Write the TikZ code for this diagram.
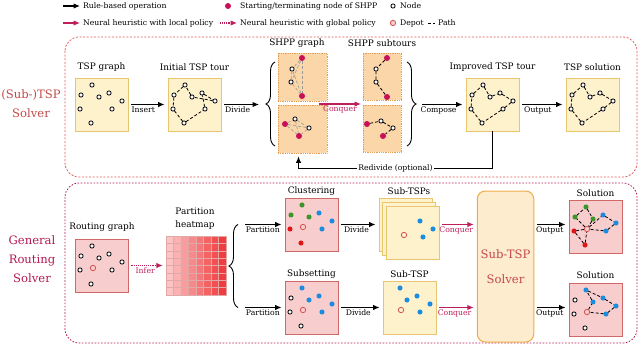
\documentclass[tikz,border=0pt]{standalone}
\usepackage{fontspec}
\setmainfont{DejaVu Serif}
\usetikzlibrary{arrows.meta, decorations.pathreplacing}

\definecolor{topc}{RGB}{196,72,72}
\definecolor{frmc}{RGB}{226,92,92}
\definecolor{botc}{RGB}{180,24,84}
\definecolor{conqc}{RGB}{190,30,90}
\definecolor{shpc}{RGB}{200,16,90}
\definecolor{yfill}{RGB}{254,242,204}
\definecolor{yline}{RGB}{232,198,112}
\definecolor{ofill}{RGB}{250,214,168}
\definecolor{oline}{RGB}{226,158,88}
\definecolor{pfill}{RGB}{248,205,205}
\definecolor{pline}{RGB}{208,104,104}
\definecolor{depc}{RGB}{212,84,84}
\definecolor{bluc}{RGB}{28,140,222}
\definecolor{grnc}{RGB}{58,150,40}
\definecolor{redc}{RGB}{222,22,22}
\definecolor{hot}{RGB}{240,60,60}
\definecolor{gridc}{RGB}{226,168,168}
\definecolor{svfill}{RGB}{254,236,206}
\definecolor{svline}{RGB}{238,172,72}

\tikzset{
    bx/.style={rectangle, inner sep=0pt, minimum width=53pt, minimum height=53pt, line width=0.8pt},
    ybox/.style={bx, fill=yfill, draw=yline},
    obox/.style={bx, fill=ofill, draw=oline, densely dotted, minimum width=49pt, minimum height=48pt},
    pbox/.style={bx, fill=pfill, draw=pline},
    vtx/.style={circle, draw=black, fill=white, line width=0.8pt, inner sep=0pt, minimum size=4.2pt},
    shp/.style={circle, fill=shpc, inner sep=0pt, minimum size=6pt},
    dep/.style={circle, draw=depc, line width=0.8pt, inner sep=0pt, minimum size=5.4pt},
    tour/.style={densely dashed, line width=0.8pt},
    gtour/.style={densely dashed, black!40, line width=0.6pt},
    rul/.style={->, line width=1.1pt, shorten >=3pt, shorten <=3pt},
    loc/.style={rul, conqc},
    glob/.style={rul, conqc, densely dotted},
    lbl/.style={font=\fontsize{8.9}{12.5}\selectfont, inner sep=1pt},
    albl/.style={font=\fontsize{7.7}{9}\selectfont, inner sep=1.5pt},
    lgd/.style={font=\fontsize{7.7}{9}\selectfont, anchor=west, inner sep=0pt},
    big/.style={font=\fontsize{11.6}{19}\selectfont, align=center},
}

\begin{document}
\begin{tikzpicture}[x=1pt, y=-1pt, >={Latex[length=6.5pt, width=5.5pt]}]
    \useasboundingbox (0,0) rectangle (640,345);

    % 1. Chú thích
    \node[lgd] (lg1) at (83,6) {Rule-based operation};
    \draw[rul, shorten <=0pt] ([xshift=-20pt]lg1.west) -- (lg1.west);
    \node[shp] (lgs) at (228,6) {};
    \node[lgd] (lg2) at (240,6) {Starting/terminating node of SHPP};
    \node[vtx] (lgn) at (393,6) {};
    \node[lgd] (lg3) at (400,6) {Node};
    \node[lgd] (lg4) at (83,23) {Neural heuristic with local policy};
    \draw[loc, shorten <=0pt] ([xshift=-20pt]lg4.west) -- (lg4.west);
    \node[lgd] (lg5) at (240,23) {Neural heuristic with global policy};
    \draw[glob, shorten <=0pt] ([xshift=-20pt]lg5.west) -- (lg5.west);
    \node[dep, fill=pfill] (lgdep) at (393,23) {};
    \node[lgd] (lg6) at (400,23) {Depot};
    \node[lgd] (lg7) at (438,23) {Path};
    \draw[tour] ([xshift=-10pt]lg7.west) -- ([xshift=-3pt]lg7.west);

    % 2. Hai khung nét đứt
    \draw[frmc, dash pattern=on 2pt off 1.6pt, line width=0.8pt, rounded corners=14pt] (65,37) rectangle (637,177);
    \node[big, text=topc] (tlab) at (31,104) {(Sub-)TSP\\Solver};
    \draw[botc, dash pattern=on 1.6pt off 1.6pt, line width=0.8pt, rounded corners=14pt] (65,183) rectangle (637,343);
    \node[big, text=botc] (blab) at (32,259) {General\\Routing\\Solver};

    % 3. Hàng trên
    % TSP graph
    \node[ybox] (tsp) at (101.5,104.5) {};
    \node[lbl] (t1) at (101.5,67) {TSP graph};
    \foreach \n/\x/\y in {1/17/7,2/6/17,3/24/19,4/34/15,5/47/23,6/5/31,7/37/31,8/16/45}
        \node[vtx] (a\n) at (75+\x,78+\y) {};

    % Initial TSP tour
    \node[ybox] (init) at (194.5,104.5) {};
    \node[lbl] (t2) at (194.5,67) {Initial TSP tour};
    \foreach \n/\x/\y in {1/17/7,2/6/17,3/24/19,4/34/15,5/47/23,6/5/31,7/37/31,8/16/45}
        \node[vtx] (b\n) at (168+\x,78+\y) {};
    \draw[tour] (b1) -- (b2) -- (b6) -- (b8) -- (b7) -- (b4) -- (b5) -- (b3) -- (b1);
    \draw[rul] (tsp) -- (init) node[albl, below, pos=0.38] {Insert};

    % SHPP graph
    \node[obox] (sg1) at (302.5,77) {};
    \node[obox] (sg2) at (302.5,129) {};
    \node[lbl] (t3) at (297,43) {SHPP graph};
    \node[shp] (c1) at (302,58) {};
    \node[vtx] (c2) at (292,69) {};
    \node[vtx] (c3) at (291,82) {};
    \node[shp] (c4) at (302,96) {};
    \node[shp] (d1) at (285,124) {};
    \node[vtx] (d2) at (295,119) {};
    \node[vtx] (d3) at (309,128) {};
    \node[shp] (d4) at (299,136) {};
    \foreach \u/\v in {1/2,1/3,1/4,2/3,2/4,3/4} {
        \draw[gtour] (c\u) -- (c\v);
        \draw[gtour] (d\u) -- (d\v);
    }
    \draw[decorate, decoration={brace, amplitude=9pt}, line width=0.9pt] (275,146) -- (275,62);
    \coordinate (brA) at (262,104.5);
    \draw[rul] (init) -- (brA) node[albl, below, pos=0.4] {Divide};

    % SHPP subtours
    \node[obox, minimum width=38pt, minimum height=47pt] (su1) at (382,76.5) {};
    \node[obox, minimum width=38pt, minimum height=47pt] (su2) at (382,128.5) {};
    \node[lbl] (t4) at (382,43) {SHPP subtours};
    \node[shp] (e1) at (387,58) {};
    \node[vtx] (e2) at (376,69) {};
    \node[vtx] (e3) at (376,82) {};
    \node[shp] (e4) at (387,97) {};
    \node[shp] (f1) at (367,124) {};
    \node[vtx] (f2) at (381,121) {};
    \node[vtx] (f3) at (393,128) {};
    \node[shp] (f4) at (383,136) {};
    \draw[tour] (e1) -- (e2) -- (e3) -- (e4);
    \draw[tour] (f1) -- (f2) -- (f3) -- (f4);
    \coordinate (cqA) at (316,104);
    \coordinate (cqB) at (364,104);
    \draw[loc] (cqA) -- (cqB) node[albl, below, pos=0.5, text=conqc] {Conquer};
    \draw[decorate, decoration={brace, amplitude=9pt}, line width=0.9pt] (407,62) -- (407,146);

    % Improved TSP tour
    \node[ybox] (imp) at (492.5,104.5) {};
    \node[lbl] (t5) at (492.5,67) {Improved TSP tour};
    \foreach \n/\x/\y in {1/17/7,2/6/17,3/24/19,4/34/15,5/47/23,6/5/31,7/37/31,8/16/45}
        \node[vtx] (g\n) at (466+\x,78+\y) {};
    \draw[tour] (g2) -- (g1) -- (g3) -- (g4) -- (g5) -- (g7) -- (g8) -- (g6) -- (g2);
    \coordinate (brB) at (419,104.5);
    \draw[rul] (brB) -- (imp) node[albl, below, pos=0.42] {Compose};

    % TSP solution
    \node[ybox] (sol) at (592.5,104.5) {};
    \node[lbl] (t6) at (592.5,67) {TSP solution};
    \foreach \n/\x/\y in {1/17/7,2/6/17,3/24/19,4/34/15,5/47/23,6/5/31,7/37/31,8/16/45}
        \node[vtx] (h\n) at (566+\x,78+\y) {};
    \draw[tour] (h2) -- (h1) -- (h3) -- (h4) -- (h5) -- (h7) -- (h8) -- (h6) -- (h2);
    \draw[rul] (imp) -- (sol) node[albl, below, pos=0.4] {Output};

    % Redivide
    \draw[rul, line width=0.9pt, shorten <=0pt] (imp.south) -- ++(0,37) -| ([xshift=-4pt]sg2.south)
        node[albl, pos=0.25, fill=white] {Redivide (optional)};

    % 4. Hàng dưới
    % Routing graph
    \node[pbox] (rg) at (101.5,265.5) {};
    \node[lbl] (u1) at (102,227) {Routing graph};
    \foreach \n/\x/\y in {1/17/7,2/6/17,3/24/19,4/34/15,5/47/23,6/5/31,7/37/31,8/16/45}
        \node[vtx] (r\n) at (75+\x,239+\y) {};
    \node[dep] (r0) at (93,268) {};

    % Partition heatmap
    \node[inner sep=0pt, minimum width=60pt, minimum height=59pt] (hm) at (196,265.5) {};
    \foreach \i [evaluate=\i as \c using int(30+10*\i)] in {0,...,7}
        \foreach \j in {0,...,7}
            \filldraw[fill=hot!\c!white, draw=gridc, line width=0.5pt] (166+7.5*\i,236+7.375*\j) rectangle ++(7.5,7.375);
    \node[lbl, align=center] (u2) at (195,218.5) {Partition\\heatmap};
    \draw[glob] (rg.east) -- (rg.east -| hm.west) node[albl, below, pos=0.45, text=conqc] {Infer};
    \draw[decorate, decoration={brace, amplitude=9pt}, line width=0.9pt] (238,307.5) -- (238,224.5);

    % Clustering
    \node[pbox] (cl) at (311.5,224.5) {};
    \node[lbl] (u3) at (311.5,191) {Clustering};
    \foreach \n/\x/\y/\c in {1/17/7/grnc,2/6/17/grnc,3/24/19/grnc,4/34/15/bluc,5/47/23/bluc,6/5/31/redc,7/37/31/bluc,8/16/45/redc}
        \node[vtx, fill=\c, draw=\c] (n\n) at (285+\x,198+\y) {};
    \node[dep] (n0) at (303,227) {};
    \coordinate (pa1) at (245,224.5);
    \draw[rul, shorten <=0pt] (pa1) -- (cl) node[albl, below, pos=0.45] {Partition};

    % Subsetting
    \node[pbox] (ss) at (311.5,307.5) {};
    \node[lbl] (u4) at (311.5,274) {Subsetting};
    \foreach \n/\x/\y/\c/\e in {1/17/7/bluc/bluc,2/6/17/white/black,3/24/19/bluc/bluc,4/34/15/bluc/bluc,5/47/23/bluc/bluc,6/5/31/white/black,7/37/31/bluc/bluc,8/16/45/white/black}
        \node[vtx, fill=\c, draw=\e] (q\n) at (285+\x,281+\y) {};
    \node[dep] (q0) at (303,310) {};
    \coordinate (pa2) at (245,307.5);
    \draw[rul, shorten <=0pt] (pa2) -- (ss) node[albl, below, pos=0.45] {Partition};

    % Sub-TSPs
    \node[ybox] (stC) at (405.5,224.5) {};
    \node[ybox] (stB) at (409,228.5) {};
    \node[ybox] (stA) at (412.5,232.5) {};
    \node[lbl] (u5) at (409,191) {Sub-TSPs};
    \foreach \n/\x/\y in {4/34/15,5/47/23,7/37/31}
        \node[vtx, fill=bluc, draw=bluc] (p\n) at (386+\x,206+\y) {};
    \node[dep] (p0) at (404,235) {};
    \draw[rul] (cl) -- (stC) node[albl, below, pos=0.45] {Divide};

    % Sub-TSP
    \node[ybox] (st) at (409.5,307.5) {};
    \node[lbl] (u6) at (409.5,274) {Sub-TSP};
    \foreach \n/\x/\y in {1/17/7,3/24/19,4/34/15,5/47/23,7/37/31}
        \node[vtx, fill=bluc, draw=bluc] (v\n) at (383+\x,281+\y) {};
    \node[dep] (v0) at (401,310) {};
    \draw[rul] (ss) -- (st) node[albl, below, pos=0.45] {Divide};

    % Sub-TSP Solver
    \node[rectangle, rounded corners=8pt, fill=svfill, draw=svline, line width=1pt, minimum width=55pt,
        minimum height=151pt, big, text=topc] (sv) at (505.5,266.5) {Sub-TSP\\[6pt]Solver};
    \draw[loc] (stA.east |- cl.east) -- (sv.west |- cl.east) node[albl, below, pos=0.45, text=conqc] {Conquer};
    \draw[loc] (st.east) -- (sv.west |- st.east) node[albl, below, pos=0.45, text=conqc] {Conquer};

    % Solution
    \node[pbox] (so1) at (595.5,226.5) {};
    \node[lbl] (u7) at (595.5,193) {Solution};
    \foreach \n/\x/\y/\c in {1/17/7/grnc,2/6/17/grnc,3/24/19/grnc,4/34/15/bluc,5/47/23/bluc,6/5/31/redc,7/37/31/bluc,8/16/45/redc}
        \node[vtx, fill=\c, draw=\c] (k\n) at (569+\x,200+\y) {};
    \node[dep] (k0) at (587,229) {};
    \draw[tour] (k0) -- (k2) -- (k1) -- (k3) -- (k0);
    \draw[tour] (k0) -- (k6) -- (k8) -- (k0);
    \draw[tour] (k0) -- (k4) -- (k5) -- (k7) -- (k0);
    \draw[rul] (sv.east |- cl.east) -- (so1.west |- cl.east) node[albl, below, pos=0.45] {Output};

    \node[pbox] (so2) at (595.5,309.5) {};
    \node[lbl] (u8) at (595.5,275) {Solution};
    \foreach \n/\x/\y/\c/\e in {1/17/7/bluc/bluc,2/6/17/white/black,3/24/19/bluc/bluc,4/34/15/bluc/bluc,5/47/23/bluc/bluc,6/5/31/white/black,7/37/31/bluc/bluc,8/16/45/white/black}
        \node[vtx, fill=\c, draw=\e] (m\n) at (569+\x,283+\y) {};
    \node[dep] (m0) at (587,312) {};
    \draw[tour] (m0) -- (m3) -- (m1) -- (m4) -- (m5) -- (m7) -- (m0);
    \draw[rul] (sv.east |- ss.east) -- (so2.west |- ss.east) node[albl, below, pos=0.45] {Output};
\end{tikzpicture}
\end{document}
